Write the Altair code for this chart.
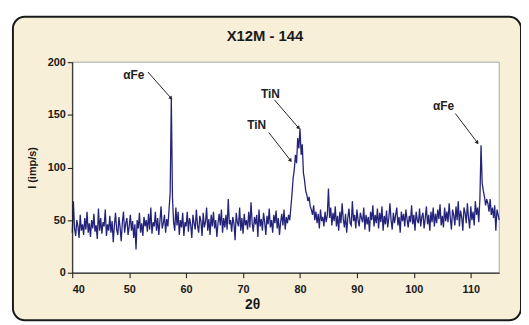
import altair as alt
import pandas as pd

# 2-theta grid: 40.0 .. 115.0 step 0.2 ; intensity values
start_2theta = 40.0
step_2theta = 0.2
intensity = [
    38, 68, 42, 35, 50,
    44, 33, 55, 40, 46,
    36, 52, 41, 58, 38,
    47, 34, 50, 42, 56,
    39, 45, 32, 61, 40,
    52, 37, 48, 44, 60,
    35, 46, 40, 54, 38,
    49, 29, 45, 57, 41,
    36, 53, 43, 30, 48,
    58, 38, 47, 52, 36,
    44, 55, 40, 49, 33,
    46, 22, 50, 42, 57,
    38, 47, 35, 53, 44,
    50, 39, 56, 41, 62,
    37, 48, 44, 58, 40,
    52, 36, 49, 63, 42,
    47, 55, 38, 51, 44,
    60, 76, 166, 72, 48,
    40, 62, 45, 58, 36,
    50, 43, 57, 35, 48,
    44, 58, 39, 52, 46,
    33, 55, 47, 41, 60,
    45, 38, 54, 49, 35,
    57, 43, 48, 62, 40,
    51, 36, 55, 44, 58,
    42, 50, 34, 47, 56,
    45, 60, 38, 52, 43,
    55, 41, 70, 46, 50,
    39, 53, 47, 31, 57,
    48, 44, 62, 40, 52,
    37, 56, 45, 50, 41,
    58, 43, 67, 47, 39,
    53, 46, 55, 34, 60,
    44, 51, 40, 57, 48,
    36, 54, 46, 61, 43,
    50, 38, 55, 47, 59,
    42, 52, 36, 48, 56,
    45, 60, 41, 53, 47,
    55, 50, 62, 75, 90,
    98, 112, 104, 128, 118,
    137, 112, 122, 95, 88,
    78, 74, 68, 72, 63,
    60, 55, 64, 50, 58,
    47, 56, 42, 60, 49,
    53, 44, 58, 48, 55,
    80, 52, 62, 45, 57,
    49, 63, 44, 54, 40,
    58, 47, 66, 51, 43,
    56, 38, 52, 61, 47,
    45, 68, 49, 55, 42,
    60, 50, 44, 57, 52,
    48, 62, 41, 55, 46,
    53, 39, 58, 50, 64,
    44, 55, 47, 61, 42,
    57, 48, 63, 40, 54,
    46, 59, 43, 52, 66,
    50, 41, 57, 47, 55,
    62, 45, 53, 38, 58,
    49, 56, 44, 60, 51,
    43, 54, 48, 64, 46,
    55, 40, 58, 50, 47,
    61, 44, 53, 57, 42,
    52, 63, 46, 55, 40,
    58, 48, 62, 44, 56,
    47, 60, 51, 65, 45,
    54, 43, 62, 49, 58,
    48, 66, 52, 41, 60,
    55, 45, 63, 50, 68,
    44, 59, 53, 40, 62,
    57, 47, 66, 52, 42,
    63, 50, 58, 45, 68,
    55, 62, 48, 70, 121,
    85, 78, 72, 64, 70,
    66, 58, 70, 55, 62,
    52, 64, 40, 60, 55,
    50,
]
two_theta = [round(start_2theta + i * step_2theta, 1) for i in range(len(intensity))]

# annotations (label, text position, arrow start, arrow end, arrowhead angle)
ann_labels = ["αFe", "TiN", "TiN", "αFe"]
ann_text_x = [50.8, 74.8, 72.4, 105.2]
ann_text_y = [187.8, 170.0, 140.0, 158.7]
arrow_x1 = [53.3, 75.5, 74.5, 107.3]
arrow_y1 = [190.6, 164.3, 133.3, 151.2]
arrow_x2 = [57.3, 79.7, 78.3, 111.1]
arrow_y2 = [166.2, 138.0, 107.0, 124.0]
arrow_angle = [138, 139, 142, 143]

x_ticks = [40, 50, 60, 70, 80, 90, 100, 110]
y_ticks = [0, 50, 100, 150, 200]

FONT = "Liberation Sans"
W, H = 432, 213

df = pd.DataFrame({"t": two_theta, "i": intensity})
ann = pd.DataFrame({
    "label": ann_labels, "tx": ann_text_x, "ty": ann_text_y,
    "x1": arrow_x1, "y1": arrow_y1, "x2": arrow_x2, "y2": arrow_y2,
    "ang": arrow_angle,
})
one = pd.DataFrame({"a": [0]})

xscale = alt.Scale(domain=[40, 115], nice=False)
yscale = alt.Scale(domain=[0, 200], nice=False)

frame = alt.Chart(one).mark_rect(
    fill="#f7efd8", stroke="#1a1a1a", strokeWidth=2, cornerRadius=12
).encode(
    x=alt.value(-60), x2=alt.value(454), y=alt.value(-46), y2=alt.value(261)
)
plotbg = alt.Chart(one).mark_rect(
    fill="white", stroke="#a8a8a8", strokeWidth=1
).encode(
    x=alt.value(0), x2=alt.value(W), y=alt.value(0), y2=alt.value(H)
)
title_txt = alt.Chart(one).mark_text(
    text="X12M - 144", font=FONT, fontSize=15, fontWeight="bold",
    color="#1a1a1a", baseline="middle", align="center"
).encode(x=alt.value(195), y=alt.value(-26))

axis_common = dict(
    zindex=3, domainColor="#111111", tickColor="#111111", tickSize=5,
    labelFont=FONT, labelFontSize=11, labelFontWeight="bold",
    labelColor="#1a1a1a", titleFont=FONT, titleFontWeight="bold",
    titleColor="#1a1a1a", grid=False,
)

line = alt.Chart(df).mark_line(color="#23237a", strokeWidth=1.3).encode(
    x=alt.X("t:Q", scale=xscale,
            axis=alt.Axis(values=x_ticks, title="2θ", titleX=182, titleY=32,
                          titleBaseline="middle", titleFontSize=14,
                          labelPadding=6, **axis_common)),
    y=alt.Y("i:Q", scale=yscale,
            axis=alt.Axis(values=y_ticks, title="I (imp/s)", titleX=-40,
                          titleY=H / 2, titleAngle=270, titleAlign="center",
                          titleBaseline="middle", titleFontSize=11,
                          **axis_common)),
)

arrows = alt.Chart(ann).mark_rule(color="#222222", strokeWidth=1).encode(
    x="x1:Q", y="y1:Q", x2="x2:Q", y2="y2:Q"
)
heads = alt.Chart(ann).mark_point(
    shape="triangle", filled=True, color="#222222", size=18, opacity=1
).encode(
    x="x2:Q", y="y2:Q", angle=alt.Angle("ang:Q", scale=None)
)
texts = alt.Chart(ann).mark_text(
    font=FONT, fontSize=12, fontWeight="bold", color="#222222"
).encode(
    x="tx:Q", y="ty:Q", text="label:N"
)

chart = alt.layer(frame, plotbg, title_txt, line, arrows, heads, texts).properties(
    width=W, height=H,
    autosize=alt.AutoSizeParams(type="none"),
    padding={"left": 65, "top": 53, "right": 22, "bottom": 48},
).configure(
    background="white",
).configure_view(
    stroke=None,
)

chart.save("out.html", embed_options={"renderer": "svg", "actions": False})
